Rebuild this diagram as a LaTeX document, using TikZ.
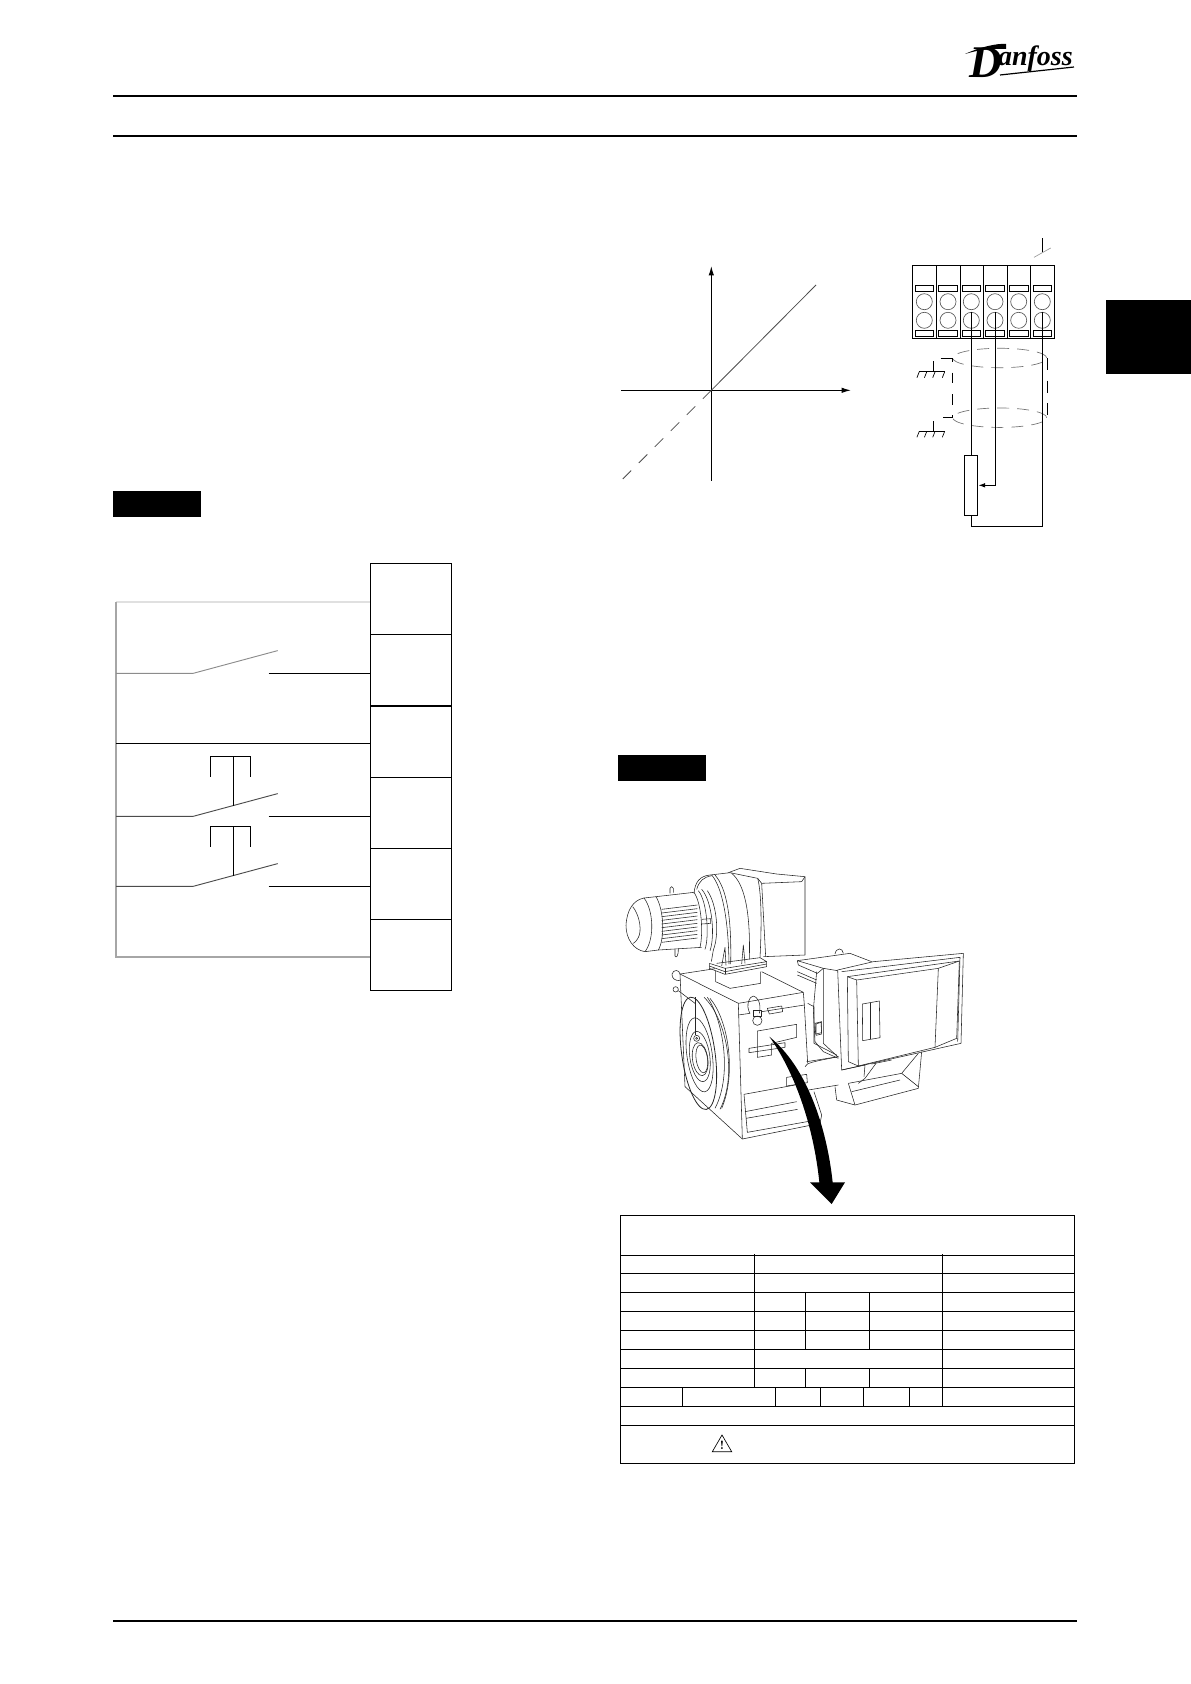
\documentclass[tikz,border=0pt]{standalone}
\usepackage{fontspec}
\newfontfamily\logofont{Liberation Serif}
\usepackage{xcolor}
\usepackage{tikz}
\usetikzlibrary{positioning}
\usetikzlibrary{arrows.meta,shapes.geometric}
\usetikzlibrary{calc}
\tikzstyle{termcell}=[rectangle,draw,line width=0.75pt,minimum width=60.75pt,minimum height=53.4pt,inner sep=0pt]
\tikzstyle{stripcell}=[rectangle,draw,line width=0.75pt,minimum height=54.75pt,inner sep=0pt]
\tikzstyle{stripslot}=[rectangle,draw,line width=0.6pt,minimum width=14pt,minimum height=4.6pt,inner sep=0pt]
\tikzstyle{striphole}=[circle,draw=black!65,line width=0.5pt,minimum size=12pt,inner sep=0pt]
\tikzstyle{shieldring}=[ellipse,draw=black!55,line width=0.5pt,dash pattern=on 9pt off 6pt,minimum width=70.5pt,minimum height=14.6pt,inner sep=0pt]
\tikzstyle{potbox}=[rectangle,draw,line width=0.75pt,minimum width=10pt,minimum height=45pt,inner sep=0pt]
\tikzstyle{wire}=[draw,line width=0.75pt]
\tikzstyle{shieldwire}=[draw,line width=0.75pt,dash pattern=on 9pt off 8pt]
\tikzstyle{outl}=[draw,line width=0.42pt,black!85,line join=round]
\tikzstyle{rule}=[draw,line width=1.6pt]
\tikzstyle{blackbar}=[rectangle,fill=black,inner sep=0pt]
\tikzstyle{grid}=[draw,line width=0.75pt]
\tikzset{tip/.style={-{Latex[length=7pt,width=4pt]}}}

\begin{document}
\begin{tikzpicture}[x=0.75pt,y=-0.75pt]
 \useasboundingbox (0,0) rectangle (1191,1684);

 %Page rules
 \coordinate (ruleL) at (113,0);
 \coordinate (ruleR) at (1077,0);
 \foreach \y in {95.7,136,1620.7}
   \path[rule] (ruleL |- 0,\y) -- (ruleR |- 0,\y);

 \node[blackbar,minimum width=63.75pt,minimum height=55.5pt] (tab) at (1148.5,337) {};
 \node[blackbar,minimum width=66pt,minimum height=19.5pt] (barA) at (157,504) {};
 \node[blackbar,minimum width=66pt,minimum height=19.5pt] (barB) at (662,768) {};

 %Logo
 \node[anchor=base west,inner sep=0pt,font=\logofont\bfseries\itshape\fontsize{21}{21}\selectfont] (logo) at (969,66)
   {\raisebox{-9pt}{\fontsize{34}{34}\selectfont D}\kern-3pt anfoss};
 \fill (965,54) .. controls (980,47) and (998,43) .. (1006,44) -- (1006,49) .. controls (992,48) and (978,50) .. (965,54);
 \draw[line width=0.9pt] (1000,75) -- (1074,67);

 %Terminals
 \foreach \y/\name in {598.8/TA,670.3/TB,741.7/TC,812.7/TD,883.8/TE,954.8/TF}
   \node[termcell] (\name) at (410.8,\y) {};

 \coordinate (railL) at (116,602);
 \coordinate (railB) at (116,957);
 \path[draw,line width=1pt,black!12] (railL) -- (railL -| TA.west);
 \path[draw,line width=0.9pt,black!35] (railL) -- (railB) -- (railB -| TF.west);
 \coordinate (comL) at (116,743.3);
 \path[wire] (comL) -- (comL -| TC.west);

 %Switches
 \foreach \y/\name/\cell/\shade in {673.3/SA/TB/45,816.3/SB/TD/70,886.3/SC/TE/70}{
   \coordinate (\name a) at (116,\y);
   \coordinate (\name b) at (193.3,\y);
   \coordinate (\name c) at (277.7,\y-22.7);
   \coordinate (\name d) at (268.5,\y);
   \path[draw,line width=0.7pt,black!\shade] (\name a) -- (\name b) -- (\name c);
   \path[wire] (\name d) -- (\name d -| \cell.west);
 }

 %Push buttons
 \foreach \y/\name in {756.3/SB,826.3/SC}{
   \coordinate (\name p) at ($(\name b)!0.475!(\name c)$);
   \coordinate (\name t) at (\name p |- 0,\y);
   \path[wire] (\name p) -- (\name t);
   \path[wire] ($(\name t)+(-23,20.4)$) -- ++(0,-20.4) -- ++(40,0) -- ++(0,20.4);
 }

 %Graph
 \coordinate (orig) at (711.3,390.3);
 \coordinate (ytop) at (711.3,266);
 \coordinate (ylow) at (711.3,480.7);
 \coordinate (xleft) at (621,390.3);
 \coordinate (xright) at (851,390.3);
 \coordinate (dhigh) at (816,285);
 \coordinate (dlow) at (621,480.7);
 \path[wire,tip] (ylow) -- (ytop);
 \path[wire,tip] (xleft) -- (xright);
 \path[draw,line width=0.6pt,black!70] (orig) -- (dhigh);
 \path[draw,line width=0.6pt,black!70,dash pattern=on 9pt off 8pt] (orig) -- (dlow);

 %Terminal strip
 \foreach \x/\w/\name in {924.5/18.3/A,948.5/17.7/B,972/17.55/C,995.7/18/D,1019.2/17.25/E,1042.7/18/F}{
   \node[stripcell,minimum width=\w pt] (cell\name) at (\x,301.8) {};
 }
 \foreach \x/\name in {924.3/A,948/B,971.3/C,995/D,1018.7/E,1042.3/F}{
   \node[stripslot,minimum width=14pt] (slt\name) at (\x,288.3) {};
   \node[stripslot,minimum width=14pt] (slb\name) at (\x,333.5) {};
   \node[striphole] (hu\name) at (\x,301.7) {};
   \node[striphole] (hl\name) at (\x,320.3) {};
 }

 %Top stub
 \coordinate (stubT) at (1042.3,238);
 \coordinate (stubB) at (1042.3,252.3);
 \coordinate (slashA) at (1034,257.3);
 \coordinate (slashB) at (1050.7,248);
 \path[wire] (stubT) -- (stubB);
 \path[draw,line width=0.5pt,black!40] (slashA) -- (slashB);

 %Shield and grounds
 \node[shieldring] (ringU) at (999.7,358) {};
 \node[shieldring] (ringL) at (999.7,417.7) {};
 \path[shieldwire] (ringU.east) -- (ringL.east);
 \path[shieldwire,dash pattern=on 8pt off 8pt,dash phase=-11pt] (ringU.west) -- (ringL.west);
 \coordinate (shuL) at (940.7,358);
 \coordinate (shlL) at (943.3,417.7);
 \path[wire] (shuL) -- (ringU.west);
 \path[wire] (shlL) -- (ringL.west);
 \foreach \y/\name in {371.7/gndA,431.3/gndB}{
   \coordinate (\name) at (933.3,\y);
   \path[wire] (\name) -- ++(0,-10.5);
   \path[wire] ($(\name)+(-14,0)$) -- ($(\name)+(11.4,0)$);
   \foreach \hx in {-14,-6.5,1.8,11.4}
     \path[draw,line width=0.5pt] ($(\name)+(\hx,0)$) -- ++(-2.4,6);
 }

 %Potentiometer
 \node[potbox] (pot) at (971.3,485.3) {};
 \coordinate (loopLow) at (971.3,526);
 \path[wire] (hlC.north) -- (pot.north);
 \path[wire,-{Latex[length=5pt,width=3.5pt]}] (hlD.north) |- (pot.east);
 \path[wire] (hlF.north) |- (loopLow) -- (pot.south);

 %Motor and fan
 \begin{scope}[shift={(620,860)},x=0.25pt,y=-0.25pt]
  \path[outl] (72,114) .. controls (40,120) and (20,150) .. (18,197) .. controls (18,235) and (40,270) .. (75,275);
  \path[outl] (38,140) .. controls (55,160) and (65,200) .. (58,225) .. controls (55,235) and (48,245) .. (40,250);
  \path[outl] (72,114) .. controls (100,150) and (105,235) .. (75,275);
  \path[outl] (108,110) .. controls (132,150) and (135,235) .. (115,270);
  \path[outl] (72,114) -- (108,110) -- (222,97);
  \path[outl] (75,275) -- (115,270) -- (245,262);
  \foreach \k in {0,...,9}
    \path[outl] (125,{148+\k*11}) -- (232,{135+\k*11});
  \path[outl] (222,97) .. controls (245,130) and (250,220) .. (240,262);
  \path[outl] (235,92) .. controls (262,125) and (268,230) .. (255,268);
  \path[outl] (245,88) .. controls (278,125) and (285,230) .. (270,272);
  \path[outl] (262,92) .. controls (292,135) and (298,225) .. (280,270);
  \path[outl] (150,100) -- (150,85) .. controls (152,78) and (158,78) .. (160,85) -- (160,98);
  \path[outl] (165,268) -- (165,288) .. controls (168,294) and (175,292) .. (175,265);
  \path[outl] (245,178) -- (272,176) -- (272,190) -- (245,192);
  \path[outl] (222,100) .. controls (225,65) and (240,48) .. (270,45) -- (330,38) -- (413,55);
  \path[outl] (230,88) .. controls (238,62) and (250,52) .. (275,47);
  \path[outl] (275,45) .. controls (305,80) and (325,170) .. (327,312);
  \path[outl] (285,45) .. controls (320,85) and (335,170) .. (332,312);
  \path[outl] (335,40) .. controls (372,70) and (392,150) .. (388,298);
  \path[outl] (413,55) .. controls (425,100) and (425,200) .. (420,293);
  \path[outl] (305,318) -- (315,262) -- (318,316);
  \path[outl] (365,312) -- (370,255) -- (375,310);
  \path[outl] (280,270) -- (274,305);
  \path[outl] (325,38) -- (360,25) -- (470,42) -- (555,50) -- (555,285) -- (430,290);
  \path[outl] (413,55) -- (425,70) -- (545,65) -- (555,50);
  \path[outl] (425,70) -- (437,290);
  \path[outl] (268,310) -- (315,325) -- (440,305) -- (420,293) -- (290,310);
  \path[outl] (268,310) -- (268,325) -- (315,343) -- (440,320) -- (440,305);
  \path[outl] (315,325) -- (315,343);
  \path[outl] (268,318) -- (315,335) -- (440,312);
  \path[outl] (287,333) -- (287,365) -- (330,385) -- (422,370) -- (422,335);
 \end{scope}

 %Gear box
 \begin{scope}[shift={(670,960)},x=0.25pt,y=-0.25pt]
  \path[outl] (30,42) .. controls (28,28) and (10,28) .. (6,42) .. controls (5,55) and (15,62) .. (30,62);
  \path[outl] (17,88) circle (8);
  \path[outl] (30,42) -- (135,26);
  \path[outl] (275,35) -- (400,97) -- (205,130) -- (30,42);
  \path[outl] (30,42) -- (45,380) -- (217,537) -- (205,130);
  \path[outl] (25,92) -- (75,130);
  \path[outl] (400,97) -- (403,135) -- (413,310);
  \path[outl] (205,165) -- (240,160);
  \path[outl] (275,155) -- (403,135);
  \begin{scope}[rotate around={8:(85,280)}]
   \path[outl,line width=0.6pt] (85,280) ellipse (50 and 170);
   \path[outl] (88,285) ellipse (38 and 112);
   \path[outl] (88,290) ellipse (30 and 76);
   \path[outl] (88,298) ellipse (23 and 50);
   \path[outl] (93,298) ellipse (17 and 42);
  \end{scope}
  \path[outl] (80,235) circle (9);
  \path[outl] (80,235) circle (3);
  \path[outl] (76,112) -- (76,225);
  \path[outl] (102,112) .. controls (165,170) and (205,340) .. (150,448);
  \path[outl] (112,112) .. controls (155,170) and (190,340) .. (135,445);
  \path[outl] (120,115) .. controls (175,180) and (200,340) .. (155,445);
  \path[outl] (240,160) .. controls (225,135) and (240,108) .. (250,108) .. controls (262,110) and (275,130) .. (268,160);
  \path[outl] (262,182) circle (14);
  \path[outl] (250,150) -- (275,150) -- (275,170) -- (250,170) -- cycle;
  \path[outl] (292,145) -- (335,138) -- (338,155) -- (298,162) -- cycle;
  \path[outl] (262,213) -- (380,193) -- (380,232) -- (305,250) -- (305,285) -- (262,292) -- cycle;
  \path[outl] (237,265) -- (345,248) -- (345,262) -- (237,278) -- cycle;
  \path[outl] (222,403) -- (375,375);
  \path[outl] (225,455) -- (380,425);
  \path[outl] (228,475) -- (383,448);
  \path[outl] (222,403) -- (232,517) -- (450,478);
  \path[outl] (217,537) -- (450,490) -- (455,465) -- (432,395);
  \path[outl] (350,352) -- (410,343) -- (412,368) -- (350,378) -- cycle;
  \path[outl] (405,320) .. controls (410,308) and (430,305) .. (505,290);
  \path[outl] (415,390) -- (505,375);
  \path[outl] (413,130) -- (432,140) -- (432,250) -- (500,285);
  \path[outl] (435,190) -- (455,185) -- (455,218) -- (437,222) -- cycle;
 \end{scope}

 %Control box
 \begin{scope}[shift={(790,930)},x=0.25pt,y=-0.25pt]
  \path[outl] (143,120) -- (250,95) -- (520,70) -- (513,340) -- (155,420) -- cycle;
  \path[outl] (155,125) -- (510,82) -- (503,335);
  \path[outl] (172,140) -- (508,93) -- (500,325) -- (435,352);
  \path[outl] (172,140) -- (175,395) -- (205,408);
  \path[outl] (200,150) -- (445,115) -- (435,352) -- (205,408) -- cycle;
  \path[outl] (172,140) -- (200,150);
  \path[outl] (445,115) -- (508,93);
  \path[outl] (217,222) -- (268,213) -- (270,323) -- (218,332) -- cycle;
  \path[outl] (240,218) -- (240,328);
  \path[outl] (22,92) -- (100,115) -- (143,122);
  \path[outl] (22,92) -- (180,70) -- (245,95);
  \path[outl] (135,72) .. controls (138,52) and (158,52) .. (160,70);
  \path[outl] (22,92) -- (25,105) -- (82,130) -- (100,115);
  \path[outl] (22,125) -- (80,150);
  \path[outl] (22,135) -- (80,160);
  \path[outl] (100,115) -- (100,340) -- (145,382);
  \path[outl] (80,125) -- (70,240) -- (75,335) -- (100,365) -- (145,385);
  \path[outl] (78,282) -- (93,277) -- (95,312) -- (78,316) -- cycle;
  \path[outl] (155,420) -- (225,405) -- (222,440);
  \path[outl] (258,400) -- (225,445) -- (205,460);
  \path[outl] (245,402) -- (305,390);
  \path[outl] (385,370) -- (335,430) -- (175,460);
  \path[outl] (395,365) -- (385,475) -- (195,525) -- (140,510) -- (135,470);
  \path[outl] (335,430) -- (385,470);
  \path[outl] (175,460) -- (195,525);
  \path[outl] (185,485) -- (330,450);
  \path[outl] (50,395) -- (145,380);
 \end{scope}

 %Curved arrow
 \begin{scope}[shift={(610,850)},x=0.25pt,y=-0.25pt]
  \fill (478,560) .. controls (550,660) and (610,820) .. (628,997) -- (600,997) -- (665,1062) -- (705,997) -- (668,997) .. controls (650,830) and (590,650) .. (478,560);
 \end{scope}

 %Name plate
 \coordinate (plateTL) at (620.3,1215.3);
 \coordinate (plateBR) at (1074.7,1463.3);
 \path[grid] (plateTL) rectangle (plateBR);
 \foreach \y in {1255.3,1273.3,1292.3,1311.3,1330.3,1349.3,1368.3,1387.3,1406.3,1425.3}
   \path[grid] (plateTL |- 0,\y) -- (plateBR |- 0,\y);
 \foreach \x/\a/\b in {754.3/1254/1387.3,942.3/1254/1406.3,805.3/1292.3/1349.3,869.3/1292.3/1349.3,805.3/1368.3/1387.3,869.3/1368.3/1387.3,682.3/1387.3/1406.3,775.3/1387.3/1406.3,820.7/1387.3/1406.3,863.3/1387.3/1406.3,909.3/1387.3/1406.3}
   \path[grid] (\x,\a) -- (\x,\b);

 %Warning sign
 \coordinate (warnA) at (722,1435);
 \coordinate (warnB) at (712.3,1451.7);
 \coordinate (warnC) at (731.7,1451.7);
 \path[draw,line width=0.5pt] (warnA) -- (warnB) -- (warnC) -- cycle;
 \node[font=\bfseries\fontsize{9}{9}\selectfont,inner sep=0pt] (warnmark) at (722,1445.5) {!};

\end{tikzpicture}
\end{document}
